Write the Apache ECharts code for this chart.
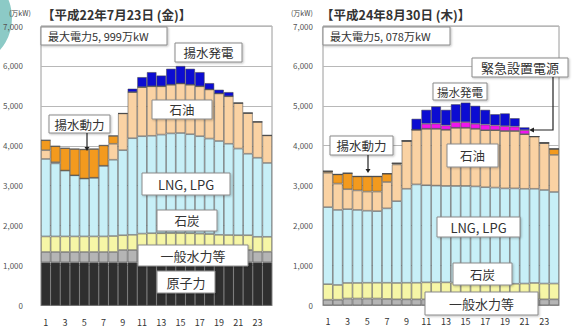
<!DOCTYPE html>
<html>
<head>
<meta charset="utf-8">
<script src="https://cdn.jsdelivr.net/npm/echarts@6/dist/echarts.min.js"></script>
<style>
  html, body { margin: 0; padding: 0; background: #fff; }
  #chart { width: 583px; height: 329px; }
</style>
</head>
<body>
<div id="chart"></div>
<script>
const hours = ["1","2","3","4","5","6","7","8","9","10","11","12","13","14","15","16","17","18","19","20","21","22","23","24"];
const yTicks = [0, 1000, 2000, 3000, 4000, 5000, 6000, 7000];

// 平成22年7月23日 (left panel), 万kW per hour, stacked bottom -> top
const nuclearL  = [1080,1080,1080,1080,1080,1080,1080,1080,1080,1080,1080,1080,1080,1080,1080,1080,1080,1080,1080,1080,1080,1080,1080,1080];
const hydroL    = [260,260,260,260,260,260,260,260,310,310,310,310,310,310,310,310,310,310,310,310,310,310,265,265];
const coalL     = [390,390,390,390,390,390,390,400,370,380,410,420,420,425,425,420,410,400,380,375,370,370,375,375];
const lngL      = [1940,1830,1650,1530,1450,1470,1770,1910,2130,2420,2440,2440,2470,2495,2505,2480,2440,2390,2350,2285,2170,2040,1980,1850];
const oilL      = [220,30,0,0,0,0,0,400,920,1155,1230,1240,1210,1220,1240,1240,1250,1230,1190,1190,1140,1020,900,690];
const pumpUseL  = [250,400,560,660,730,720,510,200,0,0,0,0,0,0,0,0,0,0,0,0,0,0,0,0];
const pumpGenL  = [0,0,0,0,0,0,0,0,0,85,250,355,270,400,439,400,355,160,95,105,0,0,0,0];

// 平成24年8月30日 (right panel)
const hydroR    = [140,140,170,170,170,170,160,150,150,150,150,150,150,150,150,150,150,150,150,150,150,150,150,150];
const coalR     = [390,370,390,390,395,395,405,410,415,415,425,425,425,420,420,415,410,400,390,390,395,410,395,395];
const lngR      = [1930,1880,1850,1830,1805,1795,1865,2050,2355,2465,2435,2425,2415,2420,2420,2415,2400,2400,2390,2390,2375,2360,2345,2295];
const oilR      = [860,660,500,490,480,490,660,920,1200,1370,1415,1425,1410,1460,1460,1445,1430,1440,1440,1440,1370,1310,1180,930];
const pumpUseR  = [40,230,400,350,380,380,210,30,0,0,0,0,0,0,0,0,0,0,0,0,0,0,0,150];
const emergR    = [0,0,0,0,0,0,0,0,0,0,125,130,110,140,140,125,140,120,120,110,100,0,0,0];
const pumpGenR  = [0,0,0,0,0,0,0,0,0,275,350,430,390,450,490,450,370,280,320,210,70,0,0,0];

const colors = {
  nuclear: "#2f2f2f",
  hydro: "#b5b5b5",
  coal: "#f6f6a6",
  lng: "#c7eff7",
  oil: "#fad2a3",
  pumpUse: "#f39a1e",
  pumpGen: "#0c0cd2",
  emerg: "#f014ee",
};

const FONT = '"Noto Sans CJK JP", "Noto Sans", sans-serif';

function layer(gridIndex, name, data, color) {
  return {
    name: name,
    type: "bar",
    stack: "s" + gridIndex,
    xAxisIndex: gridIndex,
    yAxisIndex: gridIndex,
    barCategoryGap: "0%",
    data: data,
    itemStyle: { color: color, borderColor: "rgba(70,70,70,0.75)", borderWidth: 0.7 },
    emphasis: { disabled: true },
    animation: false,
  };
}

function xAxisFor(gridIndex) {
  return {
    type: "category",
    gridIndex: gridIndex,
    data: hours,
    axisTick: { show: false },
    axisLine: { lineStyle: { color: "#999" } },
    axisLabel: { interval: 1, fontSize: 9, color: "#333", margin: 12, fontFamily: FONT },
  };
}

function yAxisFor(gridIndex, margin) {
  return {
    type: "value",
    gridIndex: gridIndex,
    min: yTicks[0],
    max: yTicks[yTicks.length - 1],
    interval: 1000,
    axisLine: { show: false },
    axisTick: { show: false },
    axisLabel: {
      fontSize: 8,
      color: "#555",
      margin: margin,
      fontFamily: FONT,
      formatter: (v) => v.toLocaleString("en-US"),
    },
    splitLine: { lineStyle: { color: "#b8b8b8", width: 1 } },
  };
}

function box(x, y, w, h, text, fontSize, align) {
  const left = align === "left";
  return [
    {
      type: "rect",
      z: 100,
      shape: { x: x, y: y, width: w, height: h },
      style: { fill: "#fff", stroke: "#8a8a8a", lineWidth: 1, shadowBlur: 2, shadowOffsetX: 1, shadowOffsetY: 1, shadowColor: "rgba(0,0,0,0.25)" },
    },
    {
      type: "text",
      z: 101,
      x: left ? x + 7 : x + w / 2,
      y: y + h / 2,
      style: {
        text: text,
        fontSize: fontSize,
        fontFamily: FONT,
        fill: "#333",
        align: left ? "left" : "center",
        verticalAlign: "middle",
      },
    },
  ];
}

function arrowDown(x, y1, y2) {
  return [
    { type: "line", z: 102, shape: { x1: x, y1: y1, x2: x, y2: y2 - 3 }, style: { stroke: "#222", lineWidth: 1.2 } },
    { type: "polygon", z: 102, shape: { points: [[x - 2.5, y2 - 4], [x + 2.5, y2 - 4], [x, y2]] }, style: { fill: "#222" } },
  ];
}

const graphics = [
  { type: "circle", z: 0, shape: { cx: -37, cy: 18, r: 49 }, style: { fill: "#8ccac6" } },
  { type: "text", x: 9, y: 13, style: { text: "(万kW)", fontSize: 7, fill: "#444", fontFamily: FONT, verticalAlign: "middle" } },
  { type: "text", x: 42, y: 14, style: { text: "【平成22年7月23日 (金)】", fontSize: 12.5, fontWeight: "bold", fill: "#333", fontFamily: FONT, verticalAlign: "middle" } },
  { type: "text", x: 291, y: 13, style: { text: "(万kW)", fontSize: 7, fill: "#444", fontFamily: FONT, verticalAlign: "middle" } },
  { type: "text", x: 321, y: 14, style: { text: "【平成24年8月30日 (木)】", fontSize: 12.5, fontWeight: "bold", fill: "#333", fontFamily: FONT, verticalAlign: "middle" } },

  ...box(41, 27, 126, 18, "最大電力5, 999万kW", 11, "left"),
  ...box(175, 43, 67, 19, "揚水発電", 12.5),
  ...box(152, 100, 60, 19, "石油", 12.5),
  ...box(49, 115, 61, 18, "揚水動力", 12.5),
  ...box(142, 173, 88, 22, "LNG, LPG", 13),
  ...box(157, 210, 60, 21, "石炭", 12.5),
  ...box(138, 245, 110, 21, "一般水力等", 13),
  ...box(157, 271, 58, 22, "原子力", 13),
  ...arrowDown(87, 133, 151),

  ...box(323, 27, 127, 18, "最大電力5, 078万kW", 11, "left"),
  ...box(472, 58, 96, 19, "緊急設置電源", 13),
  ...box(433, 83, 54, 17, "揚水発電", 11.5),
  ...box(330, 136, 63, 19, "揚水動力", 12.5),
  ...box(447, 144, 51, 23, "石油", 12.5),
  ...box(437, 217, 83, 20, "LNG, LPG", 13),
  ...box(453, 263, 59, 22, "石炭", 12.5),
  ...box(425, 292, 113, 23, "一般水力等", 13),
  ...arrowDown(368, 155, 173),
  { type: "polyline", z: 102, shape: { points: [[553, 77], [553, 130], [534, 130]] }, style: { stroke: "#222", lineWidth: 1.2, fill: null } },
  { type: "polygon", z: 102, shape: { points: [[534, 127.5], [534, 132.5], [529, 130]] }, style: { fill: "#222" } },
];

const chart = echarts.init(document.getElementById("chart"), null, { renderer: "svg" });
chart.setOption({
  animation: false,
  backgroundColor: "#fff",
  grid: [
    { left: 41, top: 26, width: 231, height: 279.5, show: true, borderColor: "#9a9a9a", borderWidth: 1, backgroundColor: "transparent" },
    { left: 323, top: 26, width: 236, height: 279.3, show: true, borderColor: "#9a9a9a", borderWidth: 1, backgroundColor: "transparent" },
  ],
  xAxis: [xAxisFor(0), xAxisFor(1)],
  yAxis: [yAxisFor(0, 18), yAxisFor(1, 10)],
  series: [
    layer(0, "原子力", nuclearL, colors.nuclear),
    layer(0, "一般水力等", hydroL, colors.hydro),
    layer(0, "石炭", coalL, colors.coal),
    layer(0, "LNG, LPG", lngL, colors.lng),
    layer(0, "石油", oilL, colors.oil),
    layer(0, "揚水動力", pumpUseL, colors.pumpUse),
    layer(0, "揚水発電", pumpGenL, colors.pumpGen),

    layer(1, "一般水力等", hydroR, colors.hydro),
    layer(1, "石炭", coalR, colors.coal),
    layer(1, "LNG, LPG", lngR, colors.lng),
    layer(1, "石油", oilR, colors.oil),
    layer(1, "揚水動力", pumpUseR, colors.pumpUse),
    layer(1, "緊急設置電源", emergR, colors.emerg),
    layer(1, "揚水発電", pumpGenR, colors.pumpGen),
  ],
  graphic: graphics,
});
</script>
</body>
</html>
